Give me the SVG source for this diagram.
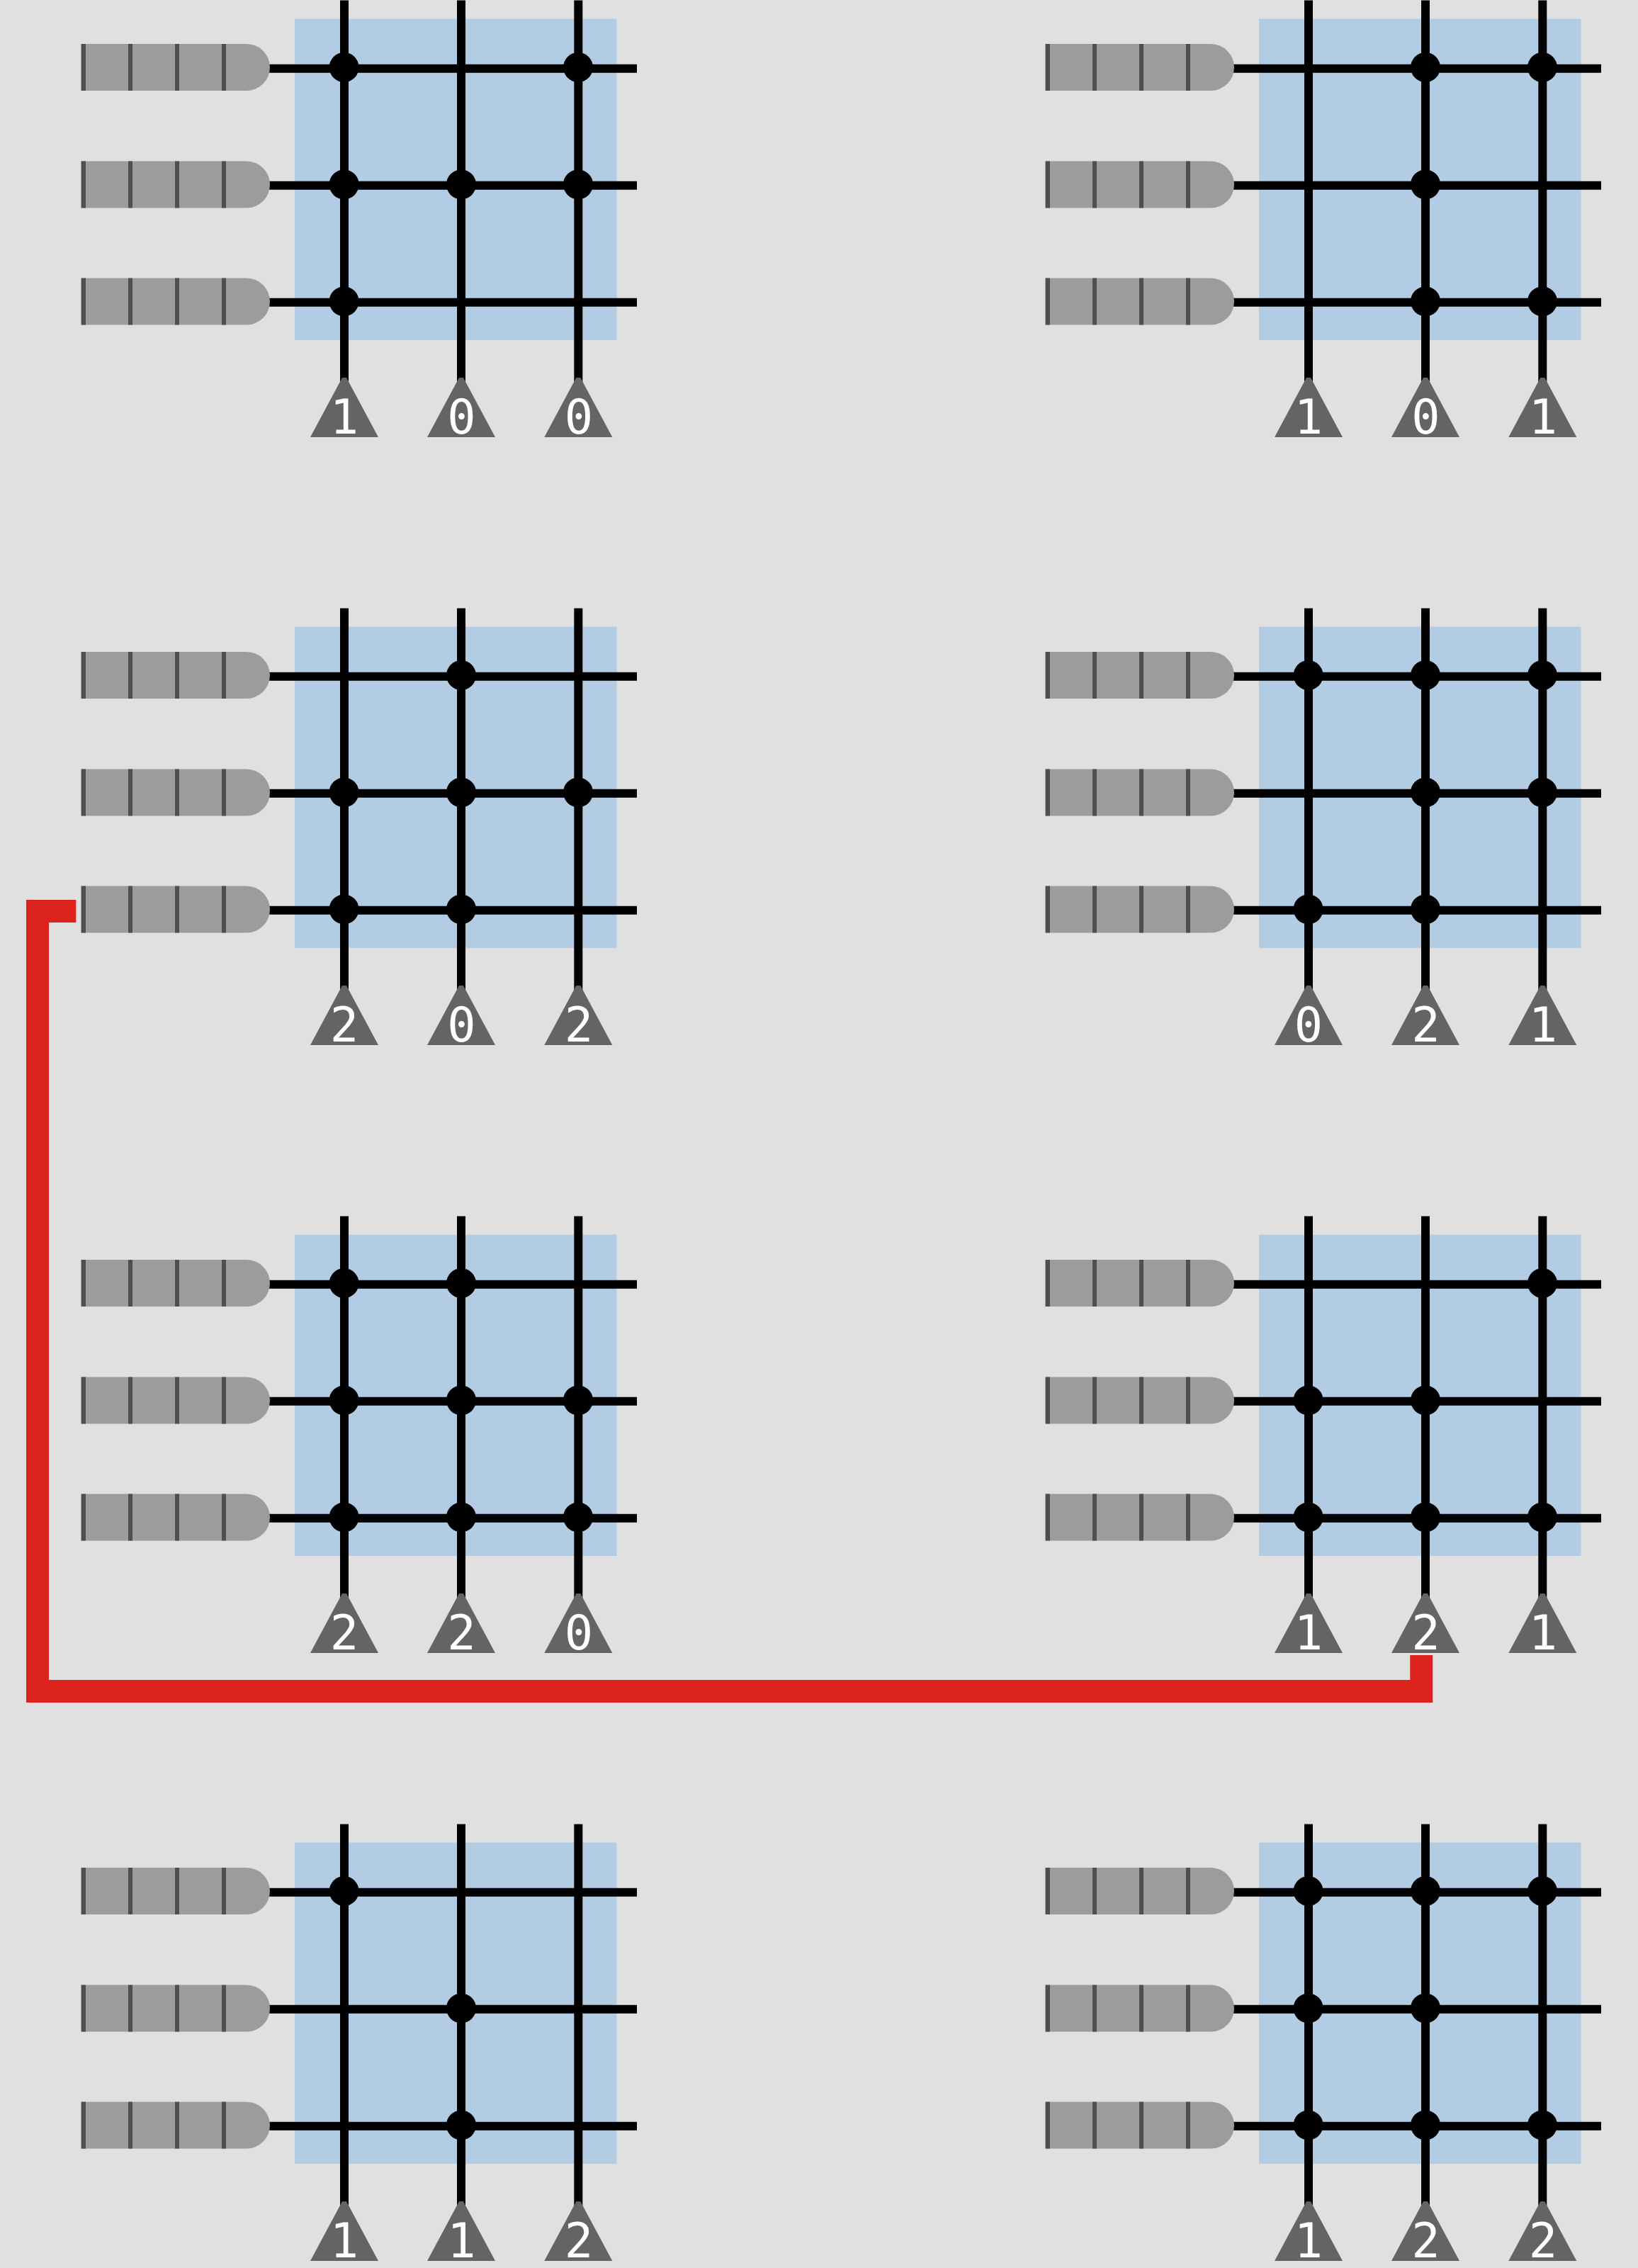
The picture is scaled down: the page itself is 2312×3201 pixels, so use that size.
<svg xmlns="http://www.w3.org/2000/svg" xmlns:xlink="http://www.w3.org/1999/xlink" width="2312" height="3201" viewBox="0 0 2312 3201">
<style>
.bg{fill:#e0e0e0}
.panel{fill:#b2cde3}
.wire{stroke:#000;stroke-width:12;fill:none}
.tube{fill:#9c9c9c}
.tick{stroke:#4f4f4f;stroke-width:6;fill:none}
.tri{fill:#646464}
.dot{fill:#000}
.lbl{font-family:"DejaVu Sans Mono",monospace;font-size:67px;fill:#fff;text-anchor:middle}
.link{stroke:#dc241c;stroke-width:32;fill:none;stroke-linejoin:miter}
</style>
<defs>
<g id="tube">
<path class="tube" d="M114 0H348a33 33 0 0 1 0 66H114Z"/>
<path class="tick" d="M118 0V66M184 0V66M250 0V66M316 0V66"/>
</g>
<g id="cell">
<rect class="panel" x="416" y="26.5" width="454.5" height="453.5"/>
<path class="wire" d="M378 96.7H899M378 261.7H899M378 426.7H899M486 .5V540M651 .5V540M816.3 .5V540"/>
<use href="#tube" xlink:href="#tube" y="62"/>
<use href="#tube" xlink:href="#tube" y="227.5"/>
<use href="#tube" xlink:href="#tube" y="392.5"/>
<path class="tri" d="M483 533H489L534 617H438ZM648 533H654L699 617H603ZM813.3 533H819.3L864.3 617H768.3Z"/>
</g>
</defs>
<rect class="bg" width="2312" height="3201"/>
<g id="block-l1">
<use href="#cell" xlink:href="#cell"/>
<circle class="dot" cx="485.6" cy="95" r="21"/><circle class="dot" cx="816" cy="95" r="21"/>
<circle class="dot" cx="485.6" cy="260.3" r="21"/><circle class="dot" cx="651" cy="260.3" r="21"/><circle class="dot" cx="816" cy="260.3" r="21"/>
<circle class="dot" cx="485.6" cy="425.3" r="21"/>
<text class="lbl" x="486" y="612">1</text><text class="lbl" x="651.5" y="612">0</text><text class="lbl" x="817" y="612">0</text>
</g>
<g id="block-r1" transform="translate(1361 0)">
<use href="#cell" xlink:href="#cell"/>
<circle class="dot" cx="651" cy="95" r="21"/><circle class="dot" cx="816" cy="95" r="21"/>
<circle class="dot" cx="651" cy="260.3" r="21"/>
<circle class="dot" cx="651" cy="425.3" r="21"/><circle class="dot" cx="816" cy="425.3" r="21"/>
<text class="lbl" x="486" y="612">1</text><text class="lbl" x="651.5" y="612">0</text><text class="lbl" x="817" y="612">1</text>
</g>
<g id="block-l2" transform="translate(0 858)">
<use href="#cell" xlink:href="#cell"/>
<circle class="dot" cx="651" cy="95" r="21"/>
<circle class="dot" cx="485.6" cy="260.3" r="21"/><circle class="dot" cx="651" cy="260.3" r="21"/><circle class="dot" cx="816" cy="260.3" r="21"/>
<circle class="dot" cx="485.6" cy="425.3" r="21"/><circle class="dot" cx="651" cy="425.3" r="21"/>
<text class="lbl" x="486" y="612">2</text><text class="lbl" x="651.5" y="612">0</text><text class="lbl" x="817" y="612">2</text>
</g>
<g id="block-r2" transform="translate(1361 858)">
<use href="#cell" xlink:href="#cell"/>
<circle class="dot" cx="485.6" cy="95" r="21"/><circle class="dot" cx="651" cy="95" r="21"/><circle class="dot" cx="816" cy="95" r="21"/>
<circle class="dot" cx="651" cy="260.3" r="21"/><circle class="dot" cx="816" cy="260.3" r="21"/>
<circle class="dot" cx="485.6" cy="425.3" r="21"/><circle class="dot" cx="651" cy="425.3" r="21"/>
<text class="lbl" x="486" y="612">0</text><text class="lbl" x="651.5" y="612">2</text><text class="lbl" x="817" y="612">1</text>
</g>
<g id="block-l3" transform="translate(0 1716)">
<use href="#cell" xlink:href="#cell"/>
<circle class="dot" cx="485.6" cy="95" r="21"/><circle class="dot" cx="651" cy="95" r="21"/>
<circle class="dot" cx="485.6" cy="260.3" r="21"/><circle class="dot" cx="651" cy="260.3" r="21"/><circle class="dot" cx="816" cy="260.3" r="21"/>
<circle class="dot" cx="485.6" cy="425.3" r="21"/><circle class="dot" cx="651" cy="425.3" r="21"/><circle class="dot" cx="816" cy="425.3" r="21"/>
<text class="lbl" x="486" y="612">2</text><text class="lbl" x="651.5" y="612">2</text><text class="lbl" x="817" y="612">0</text>
</g>
<g id="block-r3" transform="translate(1361 1716)">
<use href="#cell" xlink:href="#cell"/>
<circle class="dot" cx="816" cy="95" r="21"/>
<circle class="dot" cx="485.6" cy="260.3" r="21"/><circle class="dot" cx="651" cy="260.3" r="21"/>
<circle class="dot" cx="485.6" cy="425.3" r="21"/><circle class="dot" cx="651" cy="425.3" r="21"/><circle class="dot" cx="816" cy="425.3" r="21"/>
<text class="lbl" x="486" y="612">1</text><text class="lbl" x="651.5" y="612">2</text><text class="lbl" x="817" y="612">1</text>
</g>
<g id="block-l4" transform="translate(0 2574)">
<use href="#cell" xlink:href="#cell"/>
<circle class="dot" cx="485.6" cy="95" r="21"/>
<circle class="dot" cx="651" cy="260.3" r="21"/>
<circle class="dot" cx="651" cy="425.3" r="21"/>
<text class="lbl" x="486" y="612">1</text><text class="lbl" x="651.5" y="612">1</text><text class="lbl" x="817" y="612">2</text>
</g>
<g id="block-r4" transform="translate(1361 2574)">
<use href="#cell" xlink:href="#cell"/>
<circle class="dot" cx="485.6" cy="95" r="21"/><circle class="dot" cx="651" cy="95" r="21"/><circle class="dot" cx="816" cy="95" r="21"/>
<circle class="dot" cx="485.6" cy="260.3" r="21"/><circle class="dot" cx="651" cy="260.3" r="21"/>
<circle class="dot" cx="485.6" cy="425.3" r="21"/><circle class="dot" cx="651" cy="425.3" r="21"/><circle class="dot" cx="816" cy="425.3" r="21"/>
<text class="lbl" x="486" y="612">1</text><text class="lbl" x="651.5" y="612">2</text><text class="lbl" x="817" y="612">2</text>
</g>
<g id="connectors">
<path class="link" d="M107.3 1286H53V2387H2006.3V2336"/>
</g>
</svg>
